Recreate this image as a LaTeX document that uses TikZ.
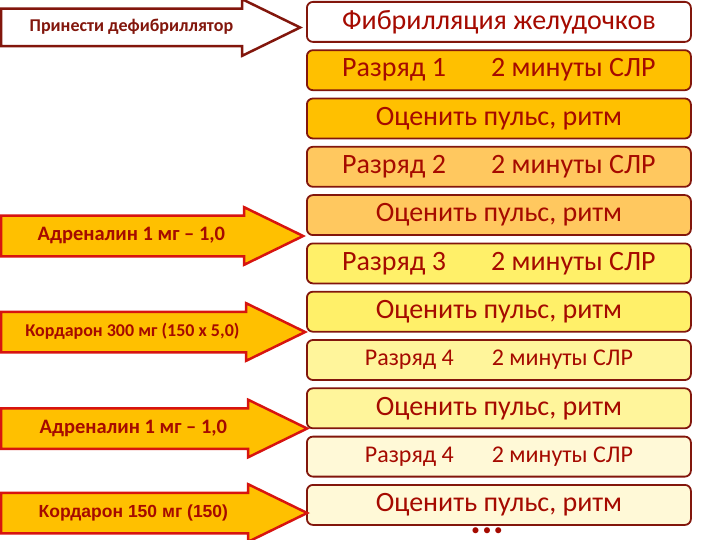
\documentclass[tikz,border=0pt]{standalone}
\usepackage{fontspec}
\setmainfont{Carlito}
\newfontfamily\arialfont{Liberation Sans}
\definecolor{VfBorder}{RGB}{130, 22, 12}
\definecolor{VfText}{RGB}{165, 10, 0}
\definecolor{VfArrowRed}{RGB}{215, 20, 15}
\definecolor{VfAmber}{RGB}{255, 192, 0}
\definecolor{VfPeach}{RGB}{255, 200, 95}
\definecolor{VfYellow}{RGB}{255, 240, 105}
\definecolor{VfPale}{RGB}{255, 245, 155}
\definecolor{VfCream}{RGB}{255, 249, 215}
\usetikzlibrary{shapes.arrows, positioning}
\newcommand{\pausegap}{\hspace{45pt}}
\newcommand{\smallgap}{\hspace{38pt}}

\begin{document}
\begin{tikzpicture}[x=1pt, y=1pt, node distance=6.5pt,
  stepbox/.style={draw=VfBorder, line width=1.8pt, rounded corners=6pt, minimum width=384pt, minimum height=40pt, text=VfText, font=\fontsize{28}{30}\selectfont, inner sep=0pt},
  drugarrow/.style={single arrow, draw=VfArrowRed, line width=2.5pt, fill=VfAmber, text=VfText, font=\bfseries\fontsize{20.5}{22}\selectfont, single arrow head extend=8.5pt, single arrow tip angle=52, text height=13pt, text depth=4pt, inner ysep=10.5pt, anchor=tip}]
  \useasboundingbox (0,0) rectangle (720,-540);

  % right column
  \node[stepbox, fill=white, anchor=north west] (vf) at (306,-1) {Фибрилляция желудочков};
  \node[stepbox, fill=VfAmber, below=of vf] (shock1) {Разряд 1\pausegap 2 минуты СЛР};
  \node[stepbox, fill=VfAmber, below=of shock1] (pulse1) {Оценить пульс, ритм};
  \node[stepbox, fill=VfPeach, below=of pulse1] (shock2) {Разряд 2\pausegap 2 минуты СЛР};
  \node[stepbox, fill=VfPeach, below=of shock2] (pulse2) {Оценить пульс, ритм};
  \node[stepbox, fill=VfYellow, below=of pulse2] (shock3) {Разряд 3\pausegap 2 минуты СЛР};
  \node[stepbox, fill=VfYellow, below=of shock3] (pulse3) {Оценить пульс, ритм};
  \node[stepbox, fill=VfPale, below=of pulse3, font=\fontsize{24}{26}\selectfont] (shock4) {Разряд 4\smallgap 2 минуты СЛР};
  \node[stepbox, fill=VfPale, below=of shock4] (pulse4) {Оценить пульс, ритм};
  \node[stepbox, fill=VfCream, below=of pulse4, font=\fontsize{24}{26}\selectfont] (shock5) {Разряд 4\smallgap 2 минуты СЛР};
  \node[stepbox, fill=VfCream, below=of shock5] (pulse5) {Оценить пульс, ритм};
  \node[text=VfText, font=\fontsize{17}{17}\selectfont, inner sep=0pt] (more) at (487,-532) {•\,•\,•};

  % left column
  \node[drugarrow, fill=white, draw=VfBorder, text=VfBorder, font=\bfseries\fontsize{18}{20}\selectfont, text height=12pt, inner ysep=9.5pt, single arrow head extend=9.5pt, minimum height=299pt] (defib) at (303,-27.5) {Принести дефибриллятор};
  \node[drugarrow, minimum height=302pt] (adren1) at (306,-236) {Адреналин 1 мг – 1,0};
  \node[drugarrow, minimum height=304pt, font=\bfseries\fontsize{18}{20}\selectfont] (cordar1) at (308,-332) {Кордарон 300 мг (150 х 5,0)};
  \node[drugarrow, minimum height=306pt] (adren2) at (310,-428.5) {Адреналин 1 мг – 1,0};
  \node[drugarrow, minimum height=306pt, font=\arialfont\bfseries\fontsize{17.5}{20}\selectfont] (cordar2) at (310,-513) {Кордарон 150 мг (150)};
\end{tikzpicture}
\end{document}
